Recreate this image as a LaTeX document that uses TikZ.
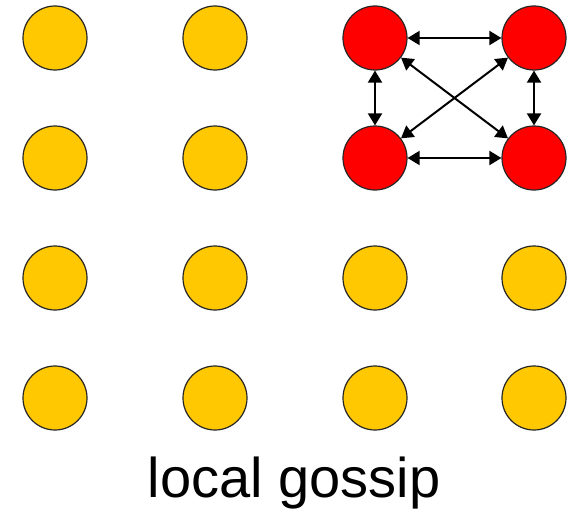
\documentclass[tikz,border=0pt]{standalone}
\usepackage{fontspec}
\setmainfont{Liberation Sans}
\usetikzlibrary{arrows.meta}
\begin{document}
\begin{tikzpicture}[x=1pt,y=-1pt,
  dot/.style={circle,draw=black!85,line width=1.2pt,minimum size=64pt,inner sep=0pt},
  idle/.style={dot,fill={rgb,255:red,255;green,200;blue,0}},
  hot/.style={dot,fill={rgb,255:red,255;green,0;blue,0}},
  link/.style={line width=2pt,{Triangle[length=12pt,width=14pt]}-{Triangle[length=12pt,width=14pt]}}]
\useasboundingbox (0,0) rectangle (575,511);
\node[idle] (a1) at (55,38) {};
\node[idle] (a2) at (215,38) {};
\node[hot]  (a3) at (375,38) {};
\node[hot]  (a4) at (534,38) {};
\node[idle] (b1) at (55,158) {};
\node[idle] (b2) at (215,158) {};
\node[hot]  (b3) at (375,158) {};
\node[hot]  (b4) at (534,158) {};
\node[idle] (c1) at (55,278) {};
\node[idle] (c2) at (215,278) {};
\node[idle] (c3) at (375,278) {};
\node[idle] (c4) at (534,278) {};
\node[idle] (d1) at (55,398) {};
\node[idle] (d2) at (215,398) {};
\node[idle] (d3) at (375,398) {};
\node[idle] (d4) at (534,398) {};
\draw[link] (a3) -- (a4);
\draw[link] (b3) -- (b4);
\draw[link] (a3) -- (b3);
\draw[link] (a4) -- (b4);
\draw[link] (a3) -- (b4);
\draw[link] (a4) -- (b3);
\node[font=\fontsize{56}{60}\selectfont,anchor=base] (t) at (294,497) {local gossip};
\end{tikzpicture}
\end{document}
